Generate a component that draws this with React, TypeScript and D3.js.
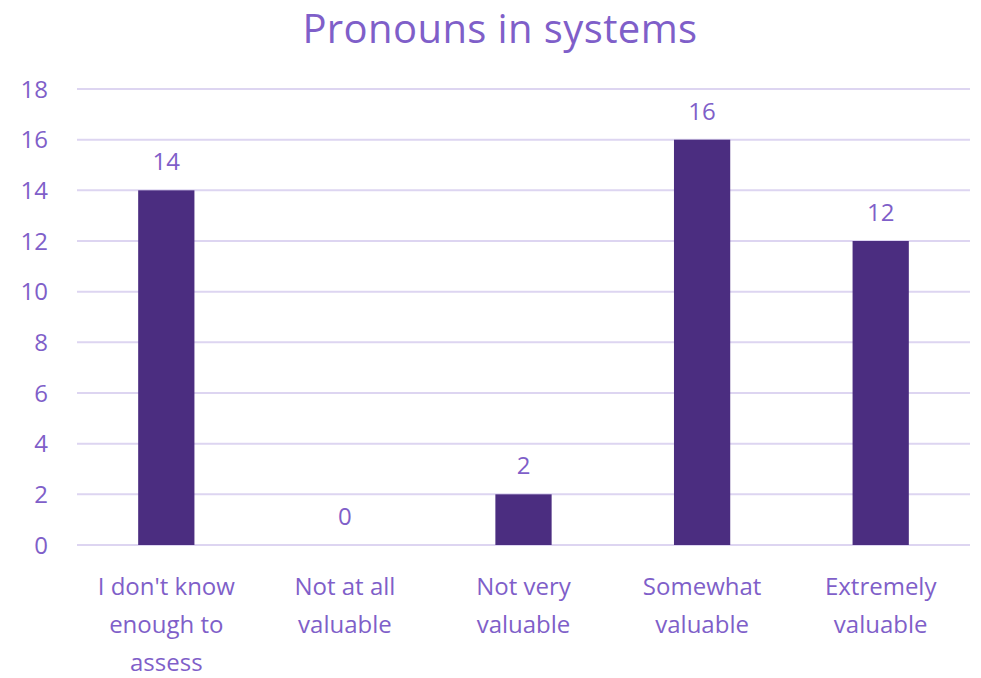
import React, { useEffect, useRef } from 'react';
import * as d3 from 'd3';

const categories = [
    ["I don't know", 'enough to', 'assess'],
    ['Not at all', 'valuable'],
    ['Not very', 'valuable'],
    ['Somewhat', 'valuable'],
    ['Extremely', 'valuable'],
];
const counts = [14, 0, 2, 16, 12];
const yTicks = [0, 2, 4, 6, 8, 10, 12, 14, 16, 18];
const title = 'Pronouns in systems';

const textColor = '#7f5fc9';
const barColor = '#4b2d80';
const gridColor = '#ddd5f1';
const font = '"Open Sans", Lato, sans-serif';

export default function App() {
    const svgRef = useRef<SVGSVGElement>(null);

    useEffect(() => {
        const svg = d3.select(svgRef.current);
        svg.selectAll('*').remove();

        const width = 981;
        const height = 678;
        const margin = { top: 89, right: 11, bottom: 133, left: 77 };

        const x = d3.scaleBand<number>()
            .domain(counts.map((_, i) => i))
            .range([margin.left, width - margin.right])
            .paddingInner(0.685)
            .paddingOuter(0.3425);
        const y = d3.scaleLinear().domain([0, 18]).range([height - margin.bottom, margin.top]);

        svg.append('rect').attr('width', width).attr('height', height).attr('fill', '#fff');

        // title
        svg.append('text')
            .attr('x', 500)
            .attr('y', 43)
            .attr('text-anchor', 'middle')
            .style('font-family', font)
            .style('font-size', '40px')
            .style('letter-spacing', '0.4px')
            .style('fill', textColor)
            .text(title);

        // grid
        svg.append('g')
            .selectAll('line')
            .data(yTicks)
            .join('line')
            .attr('x1', margin.left)
            .attr('x2', width - margin.right)
            .attr('y1', d => y(d))
            .attr('y2', d => y(d))
            .attr('stroke', gridColor)
            .attr('stroke-width', 2);

        // y tick labels
        svg.append('g')
            .selectAll('text')
            .data(yTicks)
            .join('text')
            .attr('x', 48)
            .attr('y', d => y(d))
            .attr('dy', '0.36em')
            .attr('text-anchor', 'end')
            .style('font-family', font)
            .style('font-size', '24px')
            .style('fill', textColor)
            .text(d => d);

        // bars
        svg.append('g')
            .selectAll('rect')
            .data(counts)
            .join('rect')
            .attr('x', (_, i) => x(i)!)
            .attr('width', x.bandwidth())
            .attr('y', d => y(d))
            .attr('height', d => y(0) - y(d))
            .attr('fill', barColor);

        // value labels
        svg.append('g')
            .selectAll('text')
            .data(counts)
            .join('text')
            .attr('x', (_, i) => x(i)! + x.bandwidth() / 2)
            .attr('y', d => y(d) - 20)
            .attr('text-anchor', 'middle')
            .style('font-family', font)
            .style('font-size', '24px')
            .style('fill', textColor)
            .text(d => d);

        // category labels
        const cat = svg.append('g')
            .selectAll('text')
            .data(categories)
            .join('text')
            .attr('x', (_, i) => x(i)! + x.bandwidth() / 2)
            .attr('y', 595)
            .attr('text-anchor', 'middle')
            .style('font-family', font)
            .style('font-size', '24px')
            .style('fill', textColor);
        cat.selectAll('tspan')
            .data(d => d)
            .join('tspan')
            .attr('x', function () { return (this.parentNode as SVGTextElement).getAttribute('x'); })
            .attr('dy', (_, j) => (j === 0 ? 0 : 38))
            .text(d => d);
    }, []);

    return (
        <svg ref={svgRef} width={981} height={678} style={{ position: 'absolute', top: 0, left: 0 }}></svg>
    );
}
